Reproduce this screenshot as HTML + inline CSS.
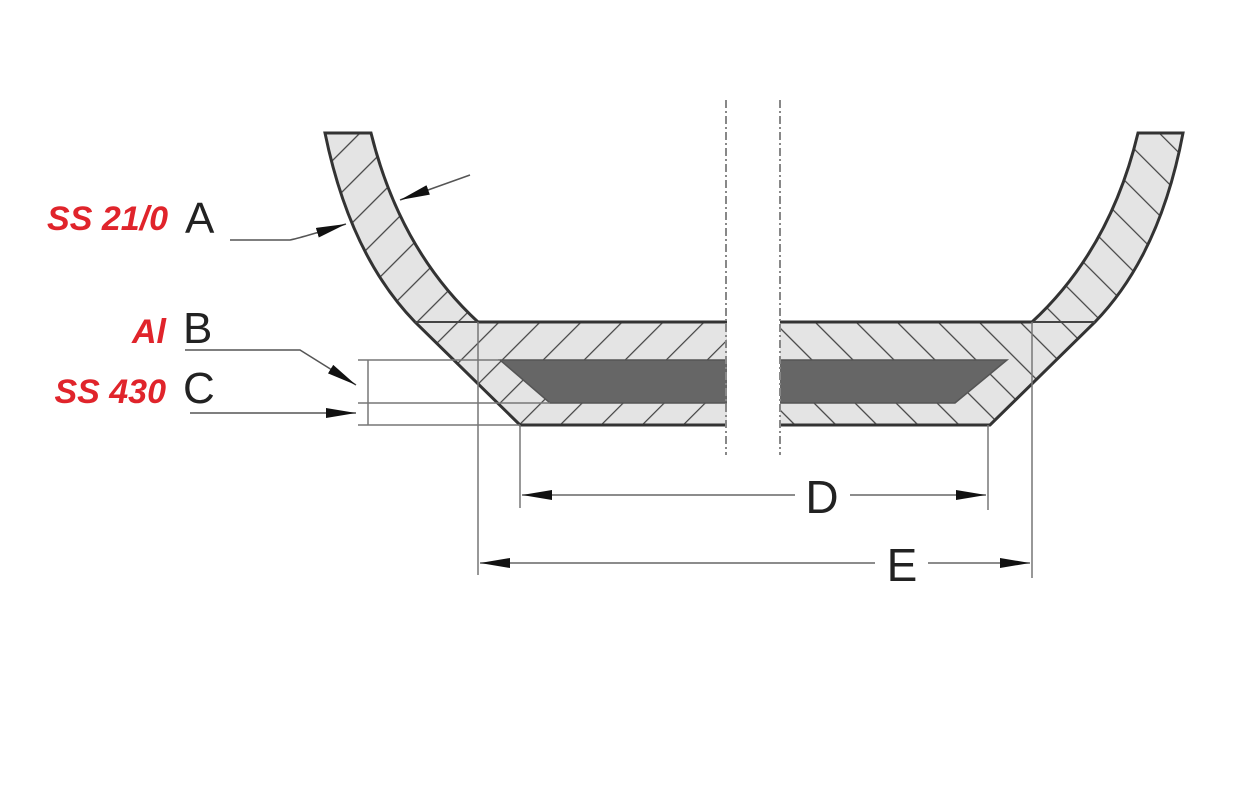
<!DOCTYPE html>
<html><head><style>html,body{margin:0;padding:0;background:#fff}svg{display:block}</style></head>
<body>
<svg width="1234" height="800" viewBox="0 0 1234 800" xmlns="http://www.w3.org/2000/svg">
<defs>
<pattern id="hl" patternUnits="userSpaceOnUse" width="29" height="29" patternTransform="rotate(45)">
<rect width="29" height="29" fill="#e4e4e4"/><line x1="0" y1="0" x2="0" y2="29" stroke="#444" stroke-width="2.5"/></pattern>
<pattern id="hr" patternUnits="userSpaceOnUse" width="29" height="29" patternTransform="rotate(-45)">
<rect width="29" height="29" fill="#e4e4e4"/><line x1="0" y1="0" x2="0" y2="29" stroke="#444" stroke-width="2.5"/></pattern>
<clipPath id="pan"><path d="M325,133 Q350,255 415,322 L520,425 L990,425 L1095,322 Q1160,255 1183,133 L1138,133 Q1110,250 1032,322 L478,322 Q400,250 371,133 Z"/></clipPath>
<marker id="ar" viewBox="0 0 30 10" refX="30" refY="5" markerWidth="30" markerHeight="10" orient="auto" markerUnits="userSpaceOnUse"><path d="M0,0 L30,5 L0,10 Z" fill="#111"/></marker>
<marker id="as" viewBox="0 0 30 10" refX="0" refY="5" markerWidth="30" markerHeight="10" orient="auto" markerUnits="userSpaceOnUse"><path d="M30,0 L0,5 L30,10 Z" fill="#111"/></marker>
</defs>
<g clip-path="url(#pan)">
<rect x="300" y="100" width="453" height="340" fill="url(#hl)"/>
<rect x="753" y="100" width="460" height="340" fill="url(#hr)"/>
</g>
<path d="M500,360 L1007,360 L955,403 L550,403 Z" fill="#666" stroke="#555" stroke-width="1.5"/>
<path d="M325,133 Q350,255 415,322 L520,425 L990,425 L1095,322 Q1160,255 1183,133 L1138,133 Q1110,250 1032,322 L478,322 Q400,250 371,133 Z" fill="none" stroke="#333" stroke-width="3"/>
<line x1="415" y1="322" x2="478" y2="322" stroke="#444" stroke-width="2"/>
<line x1="1032" y1="322" x2="1095" y2="322" stroke="#444" stroke-width="2"/>
<rect x="727" y="300" width="53" height="140" fill="#fff"/>
<line x1="726" y1="100" x2="726" y2="455" stroke="#888" stroke-width="2" stroke-dasharray="8,3,2,3"/>
<line x1="780" y1="100" x2="780" y2="455" stroke="#888" stroke-width="2" stroke-dasharray="8,3,2,3"/>
<g stroke="#777" stroke-width="1.5" fill="none">
<line x1="478" y1="322" x2="478" y2="575"/>
<line x1="1032" y1="322" x2="1032" y2="578"/>
<line x1="520" y1="425" x2="520" y2="508"/>
<line x1="988" y1="425" x2="988" y2="510"/>
<line x1="358" y1="360" x2="500" y2="360"/>
<line x1="358" y1="403" x2="550" y2="403"/>
<line x1="358" y1="425" x2="520" y2="425"/>
<line x1="368" y1="360" x2="368" y2="425"/>
</g>
<g stroke="#666" stroke-width="1.5" fill="none">
<line x1="522" y1="495" x2="795" y2="495" marker-start="url(#as)"/>
<line x1="850" y1="495" x2="986" y2="495" marker-end="url(#ar)"/>
<line x1="480" y1="563" x2="875" y2="563" marker-start="url(#as)"/>
<line x1="928" y1="563" x2="1030" y2="563" marker-end="url(#ar)"/>
<path d="M230,240 L290,240 Q300,238 346,224" stroke="#555" marker-end="url(#ar)"/>
<line x1="470" y1="175" x2="400" y2="200" stroke="#555" marker-end="url(#ar)"/>
<path d="M185,350 L300,350 L356,385" stroke="#555" marker-end="url(#ar)"/>
<line x1="190" y1="413" x2="356" y2="413" stroke="#555" marker-end="url(#ar)"/>
</g>
<g font-family="Liberation Sans, sans-serif">
<text x="822" y="513" font-size="46" text-anchor="middle" fill="#222">D</text>
<text x="902" y="581" font-size="46" text-anchor="middle" fill="#222">E</text>
<text x="185" y="233" font-size="44" fill="#222">A</text>
<text x="183" y="343" font-size="44" fill="#222">B</text>
<text x="183" y="403" font-size="44" fill="#222">C</text>
<g fill="#e0242b" font-weight="bold" font-style="italic" font-size="34" text-anchor="end">
<text x="168" y="230">SS 21/0</text>
<text x="166" y="343">Al</text>
<text x="166" y="403">SS 430</text>
</g>
</g>
</svg>
</body></html>
